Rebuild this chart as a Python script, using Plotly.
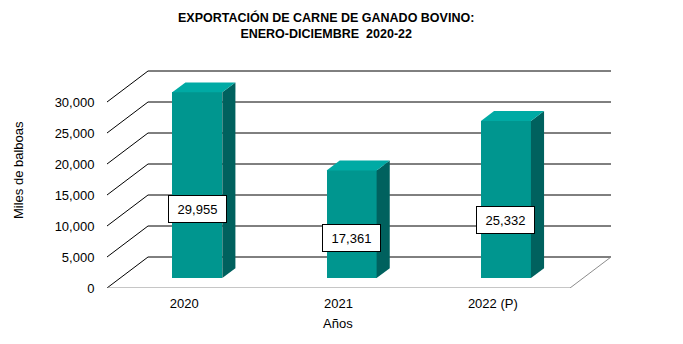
import plotly.graph_objects as go

# ---- data ----
categories = ["2020", "2021", "2022 (P)"]
values = [29955, 17361, 25332]
value_labels = ["29,955", "17,361", "25,332"]
y_ticks = [0, 5000, 10000, 15000, 20000, 25000, 30000]
title_text = "<b>EXPORTACIÓN DE CARNE DE GANADO BOVINO:<br>ENERO-DICIEMBRE&nbsp; 2020-22</b>"
y_title = "Miles de balboas"
x_title = "Años"

# ---- geometry / style ----
W, H = 683, 344
ML, MR, MT, MB = 107, 63, 60, 56
PX_PER_CAT = (570 - 107) / 3.0
PX_PER_UNIT_Y = 31 / 5000.0
plot_w = W - ML - MR
plot_h = H - MT - MB
x_max = plot_w / PX_PER_CAT
y_max = plot_h / PX_PER_UNIT_Y

DX = 41 / PX_PER_CAT          # depth offset, x units
DY = 31 / PX_PER_UNIT_Y       # depth offset, y units
F0, F1 = 0.32, 0.64           # bar front / back depth fractions
BAR_W = 50 / PX_PER_CAT
n = len(categories)

FRONT = "#00968f"
SIDE = "#00615e"
TOP = "#00aaa4"
FONT = "Liberation Sans, Arial, sans-serif"

shapes = []
def line(x0, y0, x1, y1, color="#000000", w=1):
    shapes.append(dict(type="line", xref="x", yref="y", x0=x0, y0=y0, x1=x1, y1=y1,
                       line=dict(color=color, width=w), layer="below"))

# walls / grid
for v in y_ticks:
    line(0, v, DX, v + DY)
    line(DX, v + DY, n + DX, v + DY)
line(0, 0, n, 0, color="#8c8c8c")
line(n, 0, n + DX, DY, color="#8c8c8c")

# bars (front faces)
centers = [i + 0.5 + F0 * DX for i in range(n)]
base = F0 * DY
fig = go.Figure()
fig.add_trace(go.Bar(x=centers, y=values, base=[base] * n, width=BAR_W,
                     marker=dict(color=FRONT, line=dict(width=0)),
                     hoverinfo="skip", showlegend=False))

ddx = (F1 - F0) * DX
ddy = (F1 - F0) * DY
for c, v in zip(centers, values):
    xl, xr = c - BAR_W / 2, c + BAR_W / 2
    yt = base + v
    side = f"M {xr},{base} L {xr+ddx},{base+ddy} L {xr+ddx},{yt+ddy} L {xr},{yt} Z"
    top = f"M {xl},{yt} L {xr},{yt} L {xr+ddx},{yt+ddy} L {xl+ddx},{yt+ddy} Z"
    shapes.append(dict(type="path", xref="x", yref="y", path=side,
                       fillcolor=SIDE, line=dict(width=0), layer="above"))
    shapes.append(dict(type="path", xref="x", yref="y", path=top,
                       fillcolor=TOP, line=dict(width=0), layer="above"))

annotations = []
for c, v, t in zip(centers, values, value_labels):
    annotations.append(dict(x=c, y=base + v * 0.37, xref="x", yref="y", text=t,
                            showarrow=False, font=dict(family=FONT, size=13, color="#000"),
                            bgcolor="#ffffff", bordercolor="#000000", borderwidth=1,
                            width=51, height=20, borderpad=3))

annotations.append(dict(text=title_text, xref="paper", yref="paper",
                        x=(326 - ML) / plot_w, y=((H - MB) - 25.5) / plot_h,
                        xanchor="center", yanchor="middle", showarrow=False,
                        font=dict(family="Liberation Sans Narrow, Arial Narrow, Liberation Sans, sans-serif",
                                  size=12.5, color="#000"), align="center"))
annotations.append(dict(text=x_title, xref="paper", yref="paper",
                        x=(338 - ML) / plot_w, y=-(323 - (H - MB)) / plot_h,
                        xanchor="center", yanchor="middle", showarrow=False,
                        font=dict(family=FONT, size=13, color="#000")))
annotations.append(dict(text=y_title, xref="paper", yref="paper",
                        x=(18 - ML) / plot_w, y=((H - MB) - 170) / plot_h,
                        xanchor="center", yanchor="middle", showarrow=False, textangle=-90,
                        font=dict(family=FONT, size=13, color="#000")))

fig.update_layout(
    width=W, height=H, margin=dict(l=ML, r=MR, t=MT, b=MB, pad=0),
    paper_bgcolor="#ffffff", plot_bgcolor="#ffffff",
    shapes=shapes, annotations=annotations, bargap=0,
    xaxis=dict(range=[0, x_max], tickvals=[i + 0.5 for i in range(n)], ticktext=categories,
               showgrid=False, zeroline=False, showline=False, ticks="outside", ticklen=3,
               tickcolor="rgba(0,0,0,0)", tickfont=dict(family=FONT, size=13, color="#000"),
               fixedrange=True),
    yaxis=dict(range=[0, y_max], tickvals=y_ticks, tickformat=",", showgrid=False,
               zeroline=False, showline=False, ticks="outside", ticklen=9,
               tickcolor="rgba(0,0,0,0)", tickfont=dict(family=FONT, size=13, color="#000"),
               fixedrange=True),
)
fig.write_html("out.html")
